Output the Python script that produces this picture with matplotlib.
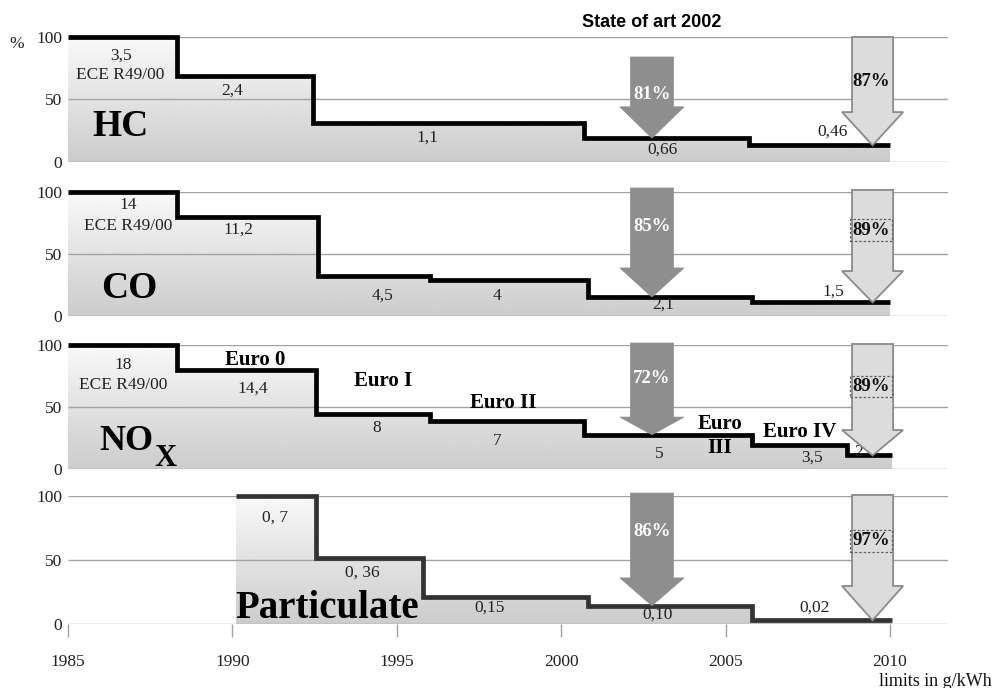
import matplotlib
matplotlib.use('Agg')
import matplotlib.pyplot as plt
import numpy as np
from matplotlib.patches import FancyArrow

plt.rcParams['font.family'] = ['Liberation Serif', 'DejaVu Serif']

# ---------------- data ----------------
year_ticks = [1985, 1990, 1995, 2000, 2005, 2010]
pct_ticks = [0, 50, 100]

hc_edges = [1985, 1988.3, 1992.45, 2000.7, 2005.7, 2010]
hc_limits = [3.5, 2.4, 1.1, 0.66, 0.46]

co_edges = [1985, 1988.3, 1992.6, 1996.0, 2000.8, 2005.8, 2010]
co_limits = [14, 11.2, 4.5, 4, 2.1, 1.5]

nox_edges = [1985, 1988.3, 1992.55, 1996.0, 2000.7, 2005.8, 2008.7, 2010.05]
nox_limits = [18, 14.4, 8, 7, 5, 3.5, 2]

pm_edges = [1990.1, 1992.55, 1995.8, 2000.8, 2005.8, 2010.05]
pm_limits = [0.7, 0.36, 0.15, 0.10, 0.02]

pollutants = ['HC', 'CO', 'NOX', 'Particulate']
reduction_2002 = ['81%', '85%', '72%', '86%']
reduction_2010 = ['87%', '89%', '89%', '97%']
year_state = 2002.76
year_future = 2009.47

# ---------------- layout ----------------
W, H = 994, 688
fig = plt.figure(figsize=(W / 100, H / 100), dpi=100)

left_px, right_px = 68, 948
px_per_year = (890 - 68) / 25.0
xmax = 1985 + (right_px - left_px) / px_per_year
panels_px = [(37, 161.7), (191.7, 315.7), (345, 469.3), (496, 624)]

edges_all = [hc_edges, co_edges, nox_edges, pm_edges]
limits_all = [hc_limits, co_limits, nox_limits, pm_limits]
line_colors = ['black', 'black', 'black', '#333333']

dark_top = [84, 103, 101.6, 102.3]
dark_head = [44, 38.5, 42, 36]
light_top = [100, 101.4, 100.8, 100.8]
light_head = [39.8, 36, 31.6, 29.7]
dark_lab_y = [53.5, 72, 73, 72]
light_lab_y = [64, 69, 66.5, 65]
light_box = [False, True, True, True]

value_labels = [
    [('3,5', 1986.6, 85.4), ('ECE R49/00', 1986.6, 69.5), ('2,4', 1990.0, 57),
     ('1,1', 1995.92, 19), ('0,66', 2003.07, 10), ('0,46', 2008.24, 24)],
    [('14', 1986.82, 89), ('ECE R49/00', 1986.82, 72), ('11,2', 1990.17, 69),
     ('4,5', 1994.55, 16), ('4', 1998.05, 16), ('2,1', 2003.1, 8.6), ('1,5', 2008.27, 19)],
    [('18', 1986.67, 84), ('ECE R49/00', 1986.67, 68), ('14,4', 1990.63, 64.6),
     ('8', 1994.4, 33), ('7', 1998.05, 23), ('5', 2002.97, 12), ('3,5', 2007.63, 9)],
    [('0, 7', 1991.3, 83), ('0, 36', 1993.94, 40), ('0,15', 1997.83, 13),
     ('0,10', 2002.94, 7), ('0,02', 2007.72, 12.7)],
]
euro_labels = [('Euro 0', 1990.69, 88), ('Euro I', 1994.58, 71), ('Euro II', 1998.23, 53),
               ('Euro', 2004.83, 36.5), ('III', 2004.83, 17), ('Euro IV', 2007.26, 30)]

grad = np.linspace(0.80, 0.975, 256).reshape(-1, 1)


def level_at(edges, pcts, yr):
    for i in range(len(pcts)):
        if edges[i] <= yr < edges[i + 1]:
            return pcts[i]
    return pcts[-1]


axes = []
for k, (ytop, ybot) in enumerate(panels_px):
    ax = fig.add_axes([left_px / W, (H - ybot) / H, (right_px - left_px) / W, (ybot - ytop) / H])
    axes.append(ax)
    ax.set_xlim(1985, xmax)
    ax.set_ylim(0, 100)
    for s in ax.spines.values():
        s.set_visible(False)
    ax.set_yticks(pct_ticks)
    ax.tick_params(axis='y', length=0, pad=4, labelsize=12.5, labelcolor='#222222')

    edges = edges_all[k]
    lim = limits_all[k]
    pcts = [v / lim[0] * 100 for v in lim]

    # gradient fill under the step curve
    patch = ax.stairs(pcts, edges, baseline=0, fill=True, facecolor='none', edgecolor='none', zorder=1)
    im = ax.imshow(grad, origin='lower', cmap='gray', vmin=0, vmax=1, aspect='auto',
                   extent=(edges[0], edges[-1], 0, 100), zorder=1, interpolation='bilinear')
    im.set_clip_path(patch)

    # grid lines
    ax.hlines(pct_ticks, 1985, xmax, color='#a3a3a3', lw=1.0, zorder=2)

    # step line
    ax.stairs(pcts, edges, baseline=None, color=line_colors[k], lw=3.4, zorder=4, clip_on=False)

    # arrows
    tip_d = level_at(edges, pcts, year_state)
    arr = FancyArrow(year_state, dark_top[k], 0, tip_d - dark_top[k], width=1.31,
                     head_width=1.95, head_length=dark_head[k] - tip_d,
                     length_includes_head=True, facecolor='#8e8e8e', edgecolor='#8e8e8e',
                     lw=0.5, zorder=5, clip_on=False)
    ax.add_patch(arr)
    tip_l = level_at(edges, pcts, year_future)
    arr2 = FancyArrow(year_future, light_top[k], 0, tip_l - light_top[k], width=1.25,
                      head_width=1.86, head_length=light_head[k] - tip_l,
                      length_includes_head=True, facecolor='#dcdcdc', edgecolor='#8a8a8a',
                      lw=1.3, zorder=5, clip_on=False)
    ax.add_patch(arr2)
    ax.text(year_state, dark_lab_y[k], reduction_2002[k], color='white', fontweight='bold',
            fontsize=13.5, ha='center', va='center', zorder=6)
    bbox = None
    if light_box[k]:
        bbox = dict(boxstyle='square,pad=0.12', fc='none', ec='#606060', ls=(0, (2, 1.5)), lw=0.9)
    ax.text(year_future - 0.05, light_lab_y[k], reduction_2010[k], color='#111111',
            fontweight='bold', fontsize=13.5, ha='center', va='center', zorder=6, bbox=bbox)

    for t, x, y in value_labels[k]:
        ax.text(x, y, t, fontsize=12.5, color='#222222', ha='center', va='center', zorder=6)

    if k < 3:
        ax.set_xticks([])
    else:
        ax.set_xticks(year_ticks)
        ax.tick_params(axis='x', length=9.4, width=1.0, color='#a3a3a3', pad=12.5,
                       labelsize=12.5, labelcolor='#222222')

# panel names
axes[0].text(1986.6, 28, 'HC', fontsize=27, fontweight='bold', ha='center', va='center', zorder=6)
axes[1].text(1986.87, 22, 'CO', fontsize=27, fontweight='bold', ha='center', va='center', zorder=6)
axes[2].text(1986.78, 22, 'NO', fontsize=26, fontweight='bold', ha='center', va='center', zorder=6)
axes[2].text(1987.95, 9, 'X', fontsize=22, fontweight='bold', ha='center', va='center', zorder=6)
axes[3].text(1992.87, 12.5, 'Particulate', fontsize=28, fontweight='bold', ha='center', va='center', zorder=6)

for t, x, y in euro_labels:
    axes[2].text(x, y, t, fontsize=15, fontweight='bold', ha='center', va='center', zorder=6)
axes[2].text(2009.06, 14, '2', fontsize=12.5, color='#222222', ha='center', va='center', zorder=4.5)

axes[0].text(year_state, 111.5, 'State of art 2002', family='Liberation Sans', fontweight='bold',
             fontsize=13, ha='center', va='center', clip_on=False)
fig.text(17 / W, (H - 44) / H, '%', fontsize=12.5, ha='center', va='center', color='#222222')
fig.text(935 / W, (H - 681) / H, 'limits in g/kWh', fontsize=13, ha='center', va='center', color='#111111')

fig.savefig('out.png', dpi=100, facecolor='white')
